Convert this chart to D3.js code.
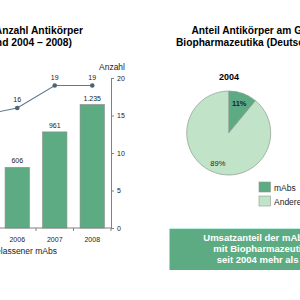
<!DOCTYPE html>
<html>
<head>
<meta charset="utf-8">
<script src="https://cdn.jsdelivr.net/npm/d3@7"></script>
<style>
  body { margin: 0; background: #fff; }
  svg { display: block; font-family: "Liberation Sans", Arial, sans-serif; }
</style>
</head>
<body>
<div id="chart"></div>
<script>
// left chart: bars = Umsatz (left axis, off screen), line = Anzahl (right axis)
const years = ["2004", "2005", "2006", "2007", "2008"];
const umsatz = [380, 470, 606, 961, 1235];
const umsatzLabels = ["", "", "606", "961", "1.235"];
const anzahl = [13, 15, 16, 19, 19];
const rightTicks = [0, 5, 10, 15, 20];

// right chart: pie 2004
const pieNames = ["mAbs", "Andere"];
const pieValues = [11, 89];
const pieColors = ["#5dab83", "#c1e4c9"];

const W = 300, H = 300;
const svg = d3.select("#chart").append("svg")
  .attr("width", W).attr("height", H);

// set the ranges
let x = d3.scaleBand().domain(years).range([-76.5, 111]);
let yR = d3.scaleLinear().domain([0, 20]).range([228, 78]);
let yL = d3.scaleLinear().domain([0, 1500]).range([228, 78]);
let bw = x.bandwidth() * 0.65;

// titles
svg.append("text").attr("x", 83).attr("y", 34)
  .attr("text-anchor", "end").attr("font-size", 10.3).attr("font-weight", "bold")
  .text("Entwicklung der Anzahl Antikörper");
svg.append("text").attr("x", 72).attr("y", 45.5)
  .attr("text-anchor", "end").attr("font-size", 10.3).attr("font-weight", "bold")
  .text("(Deutschland 2004 – 2008)");

// bars
svg.selectAll("rect.bar").data(years).enter().append("rect")
  .attr("class", "bar")
  .attr("x", d => x(d) + (x.bandwidth() - bw) / 2)
  .attr("y", (d, i) => yL(umsatz[i]))
  .attr("width", bw)
  .attr("height", (d, i) => yL(0) - yL(umsatz[i]))
  .attr("fill", "#5dab83")
  .attr("stroke", "#8a8a8a").attr("stroke-width", 0.6);

svg.selectAll("text.blab").data(years).enter().append("text")
  .attr("class", "blab")
  .attr("x", d => x(d) + x.bandwidth() / 2)
  .attr("y", (d, i) => yL(umsatz[i]) - 4)
  .attr("text-anchor", "middle").attr("font-size", 7).attr("fill", "#222")
  .text((d, i) => umsatzLabels[i]);

// the line
let line = d3.line()
  .x(d => x(d) + x.bandwidth() / 2)
  .y((d, i) => yR(anzahl[i]));
svg.append("path").datum(years)
  .attr("d", line).attr("fill", "none")
  .attr("stroke", "#61788a").attr("stroke-width", 1.1);
svg.selectAll("circle.pt").data(years).enter().append("circle")
  .attr("class", "pt")
  .attr("cx", d => x(d) + x.bandwidth() / 2)
  .attr("cy", (d, i) => yR(anzahl[i]))
  .attr("r", 2.3).attr("fill", "#4d6476");
svg.selectAll("text.llab").data(years).enter().append("text")
  .attr("class", "llab")
  .attr("x", d => x(d) + x.bandwidth() / 2)
  .attr("y", (d, i) => yR(anzahl[i]) - 6)
  .attr("text-anchor", "middle").attr("font-size", 7).attr("fill", "#222")
  .text((d, i) => anzahl[i]);

// right axis
let ax = svg.append("g").attr("transform", "translate(111,0)")
  .call(d3.axisRight(yR).tickValues(rightTicks).tickSize(3).tickPadding(3));
ax.selectAll("path, line").attr("stroke", "#808080");
ax.selectAll("text").attr("font-size", 7).attr("fill", "#222")
  .attr("font-family", "Liberation Sans, Arial, sans-serif");
svg.append("text").attr("x", 112).attr("y", 70)
  .attr("text-anchor", "middle").attr("font-size", 8.5).attr("fill", "#222")
  .text("Anzahl");

// bottom axis, ticks between categories
let bx = svg.append("g").attr("transform", "translate(0,228)");
bx.append("line").attr("x1", -80).attr("x2", 111)
  .attr("stroke", "#808080");
bx.selectAll("line.tk").data(years.slice(1)).enter().append("line")
  .attr("class", "tk")
  .attr("x1", d => x(d)).attr("x2", d => x(d))
  .attr("y1", 0).attr("y2", 3).attr("stroke", "#808080");
bx.append("line").attr("x1", 111).attr("x2", 111).attr("y1", 0).attr("y2", 3)
  .attr("stroke", "#808080");
bx.selectAll("text").data(years).enter().append("text")
  .attr("x", d => x(d) + x.bandwidth() / 2)
  .attr("y", 14)
  .attr("text-anchor", "middle").attr("font-size", 7).attr("fill", "#222")
  .text(d => d);

svg.append("text").attr("x", 57).attr("y", 253.5)
  .attr("text-anchor", "end").attr("font-size", 8.5).attr("fill", "#222")
  .text("Anzahl zugelassener mAbs");

// right chart
svg.append("text").attr("x", 191.5).attr("y", 34)
  .attr("font-size", 10.2).attr("font-weight", "bold")
  .text("Anteil Antikörper am Gesamtumsatz mit");
svg.append("text").attr("x", 176).attr("y", 45.5)
  .attr("font-size", 10.2).attr("font-weight", "bold")
  .text("Biopharmazeutika (Deutschland)");
svg.append("text").attr("x", 229).attr("y", 80)
  .attr("text-anchor", "middle").attr("font-size", 9).attr("font-weight", "bold")
  .text("2004");

let pie = d3.pie().sort(null).value(d => d);
let arc = d3.arc().innerRadius(0).outerRadius(42);
let pg = svg.append("g").attr("transform", "translate(228.7,133)");
let arcs = pie(pieValues);
pg.selectAll("path").data(arcs).enter().append("path")
  .attr("d", arc)
  .attr("fill", (d, i) => pieColors[i])
  .attr("stroke", "#8c9a90").attr("stroke-width", 0.7);
let lab = d3.arc().innerRadius(32).outerRadius(32);
pg.selectAll("text").data(arcs).enter().append("text")
  .attr("transform", (d, i) => {
    let c = i === 0 ? d3.arc().innerRadius(31).outerRadius(31).centroid(d)
                    : lab.centroid(d);
    return "translate(" + c + ")";
  })
  .attr("dy", "0.35em")
  .attr("text-anchor", "middle").attr("font-size", 7.5).attr("fill", "#222")
  .attr("font-weight", (d, i) => i === 0 ? "bold" : "normal")
  .text((d, i) => pieValues[i] + "%");

// legend
let lg = svg.selectAll("g.lg").data(pieNames).enter().append("g")
  .attr("class", "lg")
  .attr("transform", (d, i) => "translate(259," + (182 + i * 14) + ")");
lg.append("rect").attr("width", 11.5).attr("height", 10)
  .attr("fill", (d, i) => pieColors[i])
  .attr("stroke", "#8c9a90").attr("stroke-width", 0.6);
lg.append("text").attr("x", 15).attr("y", 8.5)
  .attr("font-size", 8.5).attr("fill", "#222")
  .text(d => d);

// info box
svg.append("rect").attr("x", 169.5).attr("y", 229).attr("width", 200).attr("height", 41)
  .attr("fill", "#5dab83");
svg.append("line").attr("x1", 169.5).attr("x2", 300).attr("y1", 228.5).attr("y2", 228.5)
  .attr("stroke", "#bfeee2").attr("stroke-width", 1);
const boxLines = ["Umsatzanteil der mAbs am Gesamtumsatz",
  "mit Biopharmazeutika hat sich",
  "seit 2004 mehr als verdoppelt"];
const boxX = [203.3, 213.3, 216.7];
svg.selectAll("text.box").data(boxLines).enter().append("text")
  .attr("class", "box")
  .attr("x", (d, i) => boxX[i]).attr("y", (d, i) => 241 + i * 11)
  .attr("font-size", 9.5).attr("font-weight", "bold").attr("fill", "#fff")
  .text(d => d);
</script>
</body>
</html>
